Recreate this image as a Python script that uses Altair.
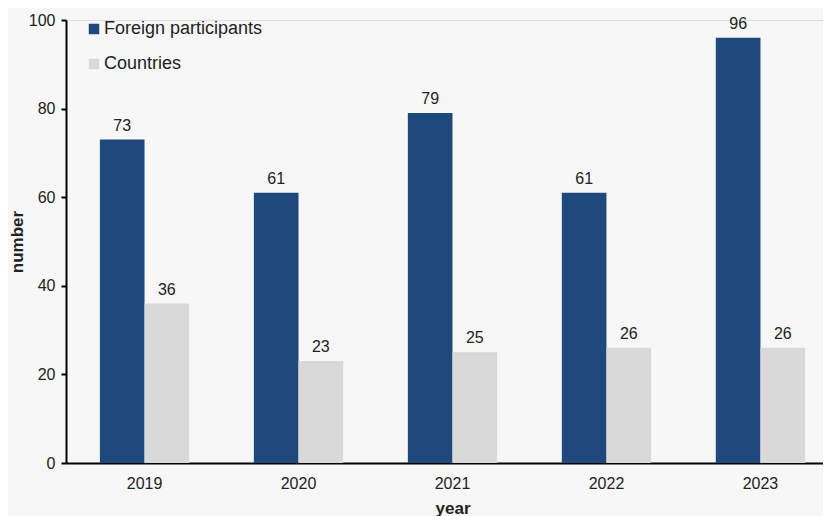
import altair as alt
import pandas as pd

years = ["2019", "2020", "2021", "2022", "2023"]
series_names = ["Foreign participants", "Countries"]
foreign = [73, 61, 79, 61, 96]
countries = [36, 23, 25, 26, 26]
colors = ["#1f497c", "#d9d9d9"]

rows = []
for i, y in enumerate(years):
    rows.append({"year": y, "series": series_names[0], "value": foreign[i]})
    rows.append({"year": y, "series": series_names[1], "value": countries[i]})
df = pd.DataFrame(rows)

FONT = "Liberation Sans"

x = alt.X("year:N", sort=years,
          scale=alt.Scale(paddingInner=0.42, paddingOuter=0.22, range=[0, 773]),
          axis=alt.Axis(title="year", labelAngle=0, ticks=False, labelPadding=12,
                        domainColor="#000000", domainWidth=2, labelFontSize=16,
                        labelColor="#222222", titleFontSize=17, titleFontWeight="bold",
                        titleColor="#222222", titlePadding=9))
xo = alt.XOffset("series:N", sort=series_names)
y = alt.Y("value:Q", scale=alt.Scale(domain=[0, 100]),
          axis=alt.Axis(title="number", values=[0, 20, 40, 60, 80, 100], grid=False,
                        domainColor="#000000", domainWidth=2, tickColor="#000000",
                        tickWidth=2, tickSize=5, labelFontSize=16, labelColor="#222222",
                        labelPadding=6, titleFontSize=17, titleFontWeight="bold",
                        titleColor="#222222", titlePadding=2))

bars = alt.Chart(df).mark_bar().encode(
    x=x, xOffset=xo, y=y,
    color=alt.Color("series:N", sort=series_names,
                    scale=alt.Scale(domain=series_names, range=colors),
                    legend=alt.Legend(title=None, orient="none", legendX=19, legendY=0,
                                      symbolType="square", symbolSize=110,
                                      symbolStrokeWidth=0, labelFontSize=18,
                                      labelColor="#222222", rowPadding=17,
                                      labelOffset=1)),
)

labels = alt.Chart(df).mark_text(dy=-14, fontSize=16, color="#222222", font=FONT).encode(
    x=x, xOffset=xo, y=y, text="value:Q"
)

chart = alt.layer(bars, labels).properties(
    width=757, height=443, background="#f7f7f7",
    autosize=alt.AutoSizeParams(type="none"),
    padding={"left": 58, "top": 12, "right": 0, "bottom": 53},
).configure_view(stroke=None).configure(font=FONT)

chart.save("out.html", embed_options={"renderer": "svg", "actions": False})
